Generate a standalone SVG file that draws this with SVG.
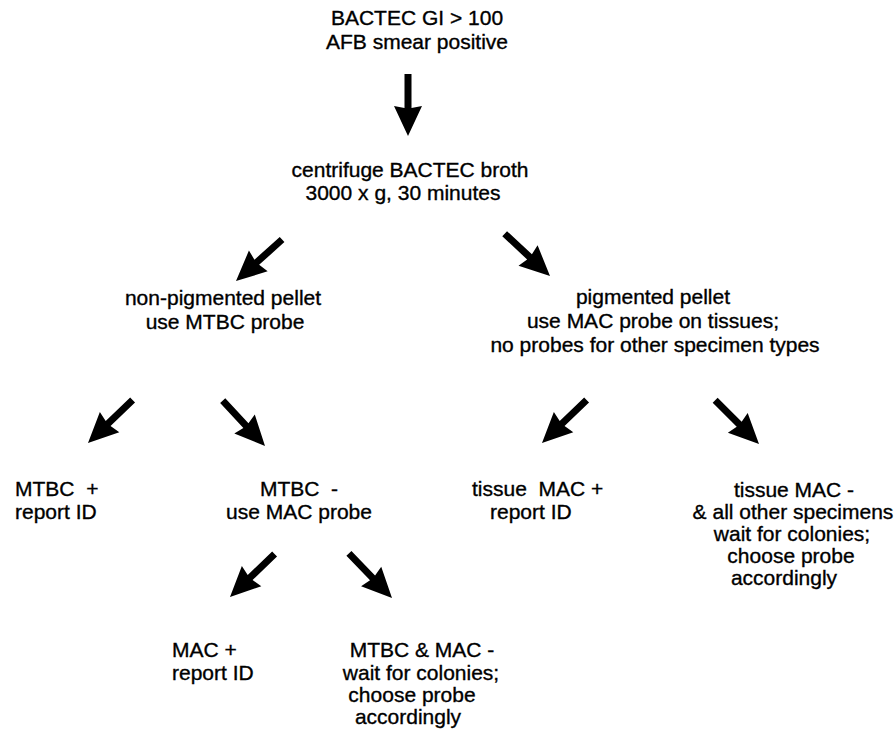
<svg xmlns="http://www.w3.org/2000/svg" width="896" height="734" viewBox="0 0 896 734">
  <defs>
    <!-- block arrow pointing along +x, tip at origin -->
    <path id="arr" d="M -62 -3.5 L -28 -3.5 L -30 -14 L 0 0 L -30 14 L -28 3.5 L -62 3.5 Z"/>
  </defs>
  <style>
    text { font-family: "Liberation Sans", Arial, sans-serif; font-size: 21px; fill: #000; stroke: #000; stroke-width: 0.35px; white-space: pre; }
    .c { text-anchor: middle; }
    .arrow { fill: #000; }
  </style>
  <rect width="896" height="734" fill="#fff"/>

  <g id="connectors" class="arrow">
    <use href="#arr" transform="translate(408,136) rotate(90)"/>
    <use href="#arr" transform="translate(236,281) rotate(138)"/>
    <use href="#arr" transform="translate(550,276) rotate(43)"/>
    <use href="#arr" transform="translate(88,443) rotate(136)"/>
    <use href="#arr" transform="translate(265,446) rotate(47)"/>
    <use href="#arr" transform="translate(542,443) rotate(136)"/>
    <use href="#arr" transform="translate(759,444) rotate(45)"/>
    <use href="#arr" transform="translate(230,597) rotate(136)"/>
    <use href="#arr" transform="translate(392,598) rotate(46)"/>
  </g>

  <g id="start">
    <text class="c" x="417" y="25">BACTEC GI &gt; 100</text>
    <text class="c" x="417" y="49">AFB smear positive</text>
  </g>
  <g id="centrifuge">
    <text class="c" x="410" y="177">centrifuge BACTEC broth</text>
    <text class="c" x="403" y="200">3000 x g, 30 minutes</text>
  </g>
  <g id="non-pigmented">
    <text class="c" x="223" y="305">non-pigmented pellet</text>
    <text class="c" x="225" y="329">use MTBC probe</text>
  </g>
  <g id="pigmented">
    <text class="c" x="653" y="304">pigmented pellet</text>
    <text class="c" x="653" y="328">use MAC probe on tissues;</text>
    <text class="c" x="655" y="352">no probes for other specimen types</text>
  </g>
  <g id="mtbc-pos">
    <text x="15" y="496" xml:space="preserve">MTBC  +</text>
    <text x="15" y="519">report ID</text>
  </g>
  <g id="mtbc-neg">
    <text class="c" x="299" y="496" xml:space="preserve">MTBC  -</text>
    <text class="c" x="299" y="519">use MAC probe</text>
  </g>
  <g id="tissue-mac-pos">
    <text x="472" y="496" xml:space="preserve">tissue  MAC +</text>
    <text x="490" y="519">report ID</text>
  </g>
  <g id="tissue-mac-neg">
    <text class="c" x="794" y="497">tissue MAC -</text>
    <text class="c" x="793" y="519">&amp; all other specimens</text>
    <text class="c" x="792" y="541">wait for colonies;</text>
    <text class="c" x="791" y="563">choose probe</text>
    <text class="c" x="784" y="585">accordingly</text>
  </g>
  <g id="mac-pos">
    <text x="172" y="657">MAC +</text>
    <text x="172" y="680">report ID</text>
  </g>
  <g id="mtbc-mac-neg">
    <text class="c" x="422" y="657">MTBC &amp; MAC -</text>
    <text class="c" x="421" y="680">wait for colonies;</text>
    <text class="c" x="412" y="702">choose probe</text>
    <text class="c" x="408" y="724">accordingly</text>
  </g>
</svg>
